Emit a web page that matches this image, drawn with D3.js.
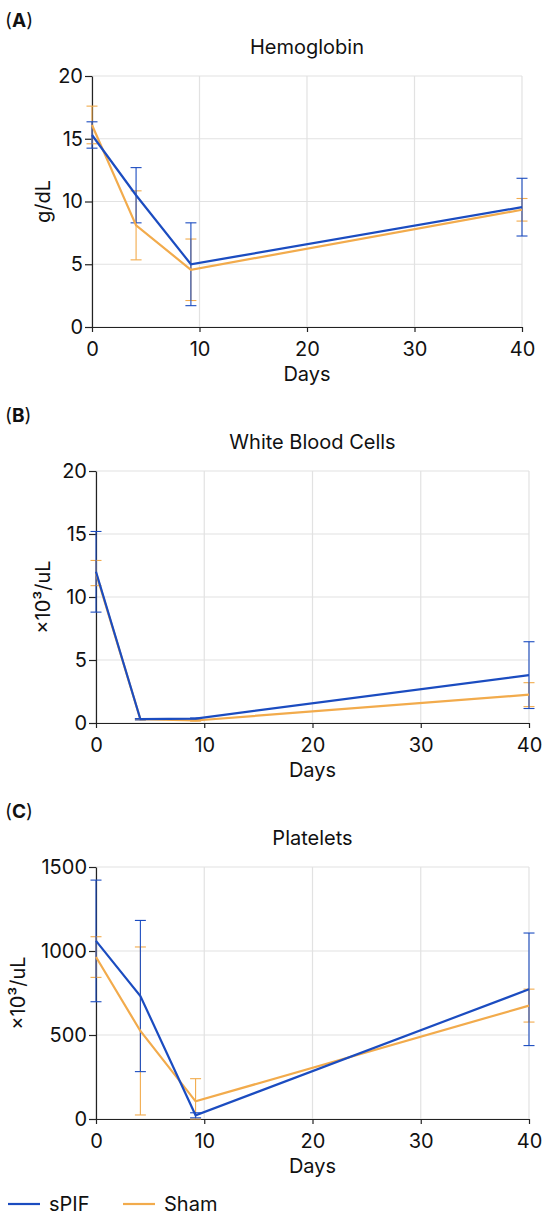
<!DOCTYPE html>
<html>
<head>
<meta charset="utf-8">
<script src="https://cdn.jsdelivr.net/npm/d3@7"></script>
<style>
  body { margin: 0; background: #fff; }
  text { font-family: Inter, "Noto Sans", sans-serif; fill: #111; }
</style>
</head>
<body>
<div id="chart"></div>
<script>
// Sampling days
const days = [0, 4.1, 9.2, 40];
const xTicks = [0, 10, 20, 30, 40];

// Hemoglobin (g/dL)
const hgbSpif = [15.3, 10.5, 5.0, 9.55];
const hgbSpifErr = [1.05, 2.2, 3.3, 2.3];
const hgbSham = [16.1, 8.1, 4.56, 9.34];
const hgbShamErr = [1.5, 2.75, 2.45, 0.9];

// White blood cells (x10^3/uL)
const wbcSpif = [12.0, 0.3, 0.35, 3.8];
const wbcSpifErr = [3.2, 0.05, 0.05, 2.65];
const wbcSham = [11.9, 0.3, 0.2, 2.25];
const wbcShamErr = [1.0, 0.05, 0.05, 0.95];

// Platelets (x10^3/uL)
const pltSpif = [1060, 732, 22, 772];
const pltSpifErr = [362, 450, 15, 335];
const pltSham = [964, 524, 105, 675];
const pltShamErr = [121, 500, 135, 98];

const seriesNames = ["sPIF", "Sham"];
const colors = { sPIF: "#1b4cc0", Sham: "#f2ab4c" };

const panels = [
  { tag: "A", title: "Hemoglobin", unit: "g/dL", yMax: 20, yTicks: [0, 5, 10, 15, 20],
    spif: hgbSpif, spifErr: hgbSpifErr, sham: hgbSham, shamErr: hgbShamErr,
    left: 92, right: 522, top: 76, bottom: 327, labelX: 50 },
  { tag: "B", title: "White Blood Cells", unit: "×10³/uL", yMax: 20, yTicks: [0, 5, 10, 15, 20],
    spif: wbcSpif, spifErr: wbcSpifErr, sham: wbcSham, shamErr: wbcShamErr,
    left: 96, right: 529, top: 471, bottom: 723, labelX: 50 },
  { tag: "C", title: "Platelets", unit: "×10³/uL", yMax: 1500, yTicks: [0, 500, 1000, 1500],
    spif: pltSpif, spifErr: pltSpifErr, sham: pltSham, shamErr: pltShamErr,
    left: 96, right: 529, top: 867, bottom: 1119, labelX: 25 }
];

const svg = d3.select("#chart").append("svg")
  .attr("width", 550)
  .attr("height", 1220);

panels.forEach(p => {
  const x = d3.scaleLinear().domain([0, 40]).range([p.left, p.right]);
  const y = d3.scaleLinear().domain([0, p.yMax]).range([p.bottom, p.top]);
  const g = svg.append("g");

  // panel tag like (A)
  const tag = g.append("text")
    .attr("x", 5).attr("y", p.top - 49)
    .attr("font-size", 19);
  tag.append("tspan").text("(");
  tag.append("tspan").attr("font-weight", "bold").text(p.tag);
  tag.append("tspan").text(")");

  g.append("text")
    .attr("x", (p.left + p.right) / 2).attr("y", p.top - 22)
    .attr("text-anchor", "middle")
    .attr("font-size", 20)
    .text(p.title);

  // grid
  g.selectAll(".hgrid").data(p.yTicks).enter().append("line")
    .attr("x1", p.left).attr("x2", p.right)
    .attr("y1", d => y(d)).attr("y2", d => y(d))
    .attr("stroke", "#e2e2e2").attr("stroke-width", 1.2);
  g.selectAll(".vgrid").data(xTicks).enter().append("line")
    .attr("x1", d => x(d)).attr("x2", d => x(d))
    .attr("y1", p.top).attr("y2", p.bottom)
    .attr("stroke", "#e2e2e2").attr("stroke-width", 1.2);

  // axes
  const yAxis = g.append("g")
    .attr("transform", `translate(${p.left},0)`)
    .call(d3.axisLeft(y).tickValues(p.yTicks).tickFormat(d3.format("d"))
      .tickSize(7).tickSizeOuter(0).tickPadding(2));
  const xAxis = g.append("g")
    .attr("transform", `translate(0,${p.bottom})`)
    .call(d3.axisBottom(x).tickValues(xTicks).tickSize(5).tickSizeOuter(0).tickPadding(10));
  [yAxis, xAxis].forEach(a => {
    a.selectAll("path, line").attr("stroke", "#222").attr("stroke-width", 1.2);
    a.selectAll("text").attr("font-size", 20).attr("fill", "#111")
      .style("font-family", "Inter, 'Noto Sans', sans-serif");
  });

  g.append("text")
    .attr("x", (p.left + p.right) / 2).attr("y", p.bottom + 54)
    .attr("text-anchor", "middle")
    .attr("font-size", 20)
    .text("Days");

  g.append("text")
    .attr("transform", `translate(${p.labelX},${(p.top + p.bottom) / 2}) rotate(-90)`)
    .attr("text-anchor", "middle")
    .attr("font-size", 20)
    .text(p.unit);

  const series = [
    { name: "Sham", vals: p.sham, err: p.shamErr },
    { name: "sPIF", vals: p.spif, err: p.spifErr }
  ];

  const line = d3.line().x((d, i) => x(days[i])).y(d => y(d));

  series.forEach(s => {
    const c = colors[s.name];
    const eb = g.append("g").attr("stroke", c).attr("stroke-width", 1.1);
    s.vals.forEach((v, i) => {
      const cx = x(days[i]);
      const lo = Math.max(0, v - s.err[i]);
      const hi = v + s.err[i];
      eb.append("line").attr("x1", cx).attr("x2", cx).attr("y1", y(lo)).attr("y2", y(hi));
      eb.append("line").attr("x1", cx - 5.5).attr("x2", cx + 5.5).attr("y1", y(hi)).attr("y2", y(hi));
      eb.append("line").attr("x1", cx - 5.5).attr("x2", cx + 5.5).attr("y1", y(lo)).attr("y2", y(lo));
    });
  });

  series.forEach(s => {
    g.append("path")
      .datum(s.vals)
      .attr("d", line)
      .attr("fill", "none")
      .attr("stroke", colors[s.name])
      .attr("stroke-width", 2.2);
  });
});

// legend
const legend = svg.append("g").attr("transform", "translate(0,1204)");
const legX = [8, 123];
seriesNames.forEach((n, i) => {
  legend.append("line")
    .attr("x1", legX[i]).attr("x2", legX[i] + 32)
    .attr("y1", 0).attr("y2", 0)
    .attr("stroke", colors[n]).attr("stroke-width", 2.2);
  legend.append("text")
    .attr("x", legX[i] + 41).attr("y", 7)
    .attr("font-size", 20)
    .text(n);
});
</script>
</body>
</html>
